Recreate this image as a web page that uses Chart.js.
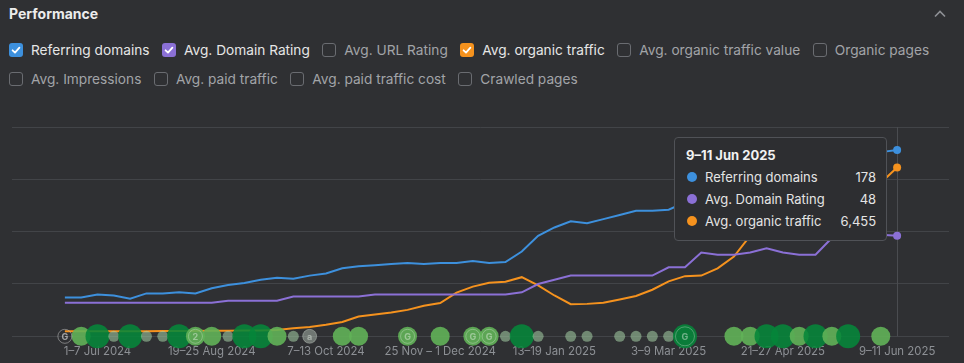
<!DOCTYPE html>
<html>
<head>
<meta charset="utf-8">
<script src="https://cdn.jsdelivr.net/npm/chart.js@4/dist/chart.umd.min.js"></script>
<style>
  html, body { margin:0; padding:0; }
  body { width:964px; height:363px; overflow:hidden; background:#2f3033; font-family:Inter, "Noto Sans", sans-serif; position:relative; }
  .head { position:absolute; left:9px; top:0; height:28px; line-height:28px; font-size:14px; font-weight:700; color:#ececec; }
  .chev { position:absolute; left:933px; top:9px; }
  .row { position:absolute; left:9px; height:28px; display:flex; align-items:center; white-space:nowrap; }
  .item { display:flex; align-items:center; margin-right:12.5px; font-size:13.7px; color:#a2a4a8; }
  .item.on { color:#e6e6e6; }
  .box { width:14px; height:14px; box-sizing:border-box; border:1.5px solid #6a6c71; border-radius:3px; margin-right:8px; display:flex; align-items:center; justify-content:center; }
  .item.on .box { border:none; }
  #wrap { position:absolute; left:0; top:100px; width:964px; height:266px; }
  #tip { position:absolute; display:none; width:213px; box-sizing:border-box; padding:6px 10px 8px 11px; background:#2d2e31; border:1px solid #505257; border-radius:4px; font-size:13px; color:#e4e4e4; pointer-events:none; }
  #tip .t { height:22px; line-height:22px; font-weight:700; color:#f2f2f2; }
  #tip .r { height:22px; display:flex; align-items:center; }
  #tip .d { width:10px; height:10px; border-radius:50%; margin:0 8px 0 1px; }
  #tip .v { margin-left:auto; }
</style>
</head>
<body>
<div class="head">Performance</div>
<svg class="chev" width="14" height="10" viewBox="0 0 14 10"><path d="M2 7.5 L7 2.5 L12 7.5" fill="none" stroke="#8e9095" stroke-width="1.6"/></svg>
<div class="row" id="row1" style="top:36px"></div>
<div class="row" id="row2" style="top:65px"></div>
<div id="wrap"><canvas id="perf"></canvas></div>
<div id="tip"></div>
<script>
// ── Data ─────────────────────────────────────────────────────────
const weekLabels = [
  '17–23 Jun 2024', '24–30 Jun 2024', '1–7 Jul 2024', '8–14 Jul 2024', '15–21 Jul 2024',
  '22–28 Jul 2024', '29 Jul – 4 Aug 2024', '5–11 Aug 2024', '12–18 Aug 2024', '19–25 Aug 2024',
  '26 Aug – 1 Sep 2024', '2–8 Sep 2024', '9–15 Sep 2024', '16–22 Sep 2024', '23–29 Sep 2024',
  '30 Sep – 6 Oct 2024', '7–13 Oct 2024', '14–20 Oct 2024', '21–27 Oct 2024', '28 Oct – 3 Nov 2024',
  '4–10 Nov 2024', '11–17 Nov 2024', '18–24 Nov 2024', '25 Nov – 1 Dec 2024', '2–8 Dec 2024',
  '9–15 Dec 2024', '16–22 Dec 2024', '23–29 Dec 2024', '30 Dec 2024 – 5 Jan 2025', '6–12 Jan 2025',
  '13–19 Jan 2025', '20–26 Jan 2025', '27 Jan – 2 Feb 2025', '3–9 Feb 2025', '10–16 Feb 2025',
  '17–23 Feb 2025', '24 Feb – 2 Mar 2025', '3–9 Mar 2025', '10–16 Mar 2025', '17–23 Mar 2025',
  '24–30 Mar 2025', '31 Mar – 6 Apr 2025', '7–13 Apr 2025', '14–20 Apr 2025', '21–27 Apr 2025',
  '28 Apr – 4 May 2025', '5–11 May 2025', '12–18 May 2025', '19–25 May 2025', '26 May – 1 Jun 2025',
  '2–8 Jun 2025', '9–11 Jun 2025'
];
const tickWeeks = [2, 9, 16, 23, 30, 37, 44, 51];

const referringDomains = [
  37, 37, 40, 39, 36, 41, 41, 42, 41, 46,
  49, 51, 54, 56, 55, 58, 60, 65, 67, 68,
  69, 70, 69, 70, 70, 72, 70, 71, 81, 96,
  104, 110, 108, 112, 116, 120, 120, 121, 128, 140,
  152, 165, 178, 188, 185, 183, 181, 179, 177, 176,
  176, 178
];
const domainRating = [
  16, 16, 16, 16, 16, 16, 16, 16, 16, 16,
  17, 17, 17, 17, 19, 19, 19, 19, 19, 20,
  20, 20, 20, 20, 20, 20, 20, 20, 21, 25,
  27, 29, 29, 29, 29, 29, 29, 33, 33, 40,
  39, 39, 40, 42, 40, 39, 39, 47, 49, 49,
  48.5, 48
];
const organicTraffic = [
  190, 190, 190, 195, 195, 195, 200, 200, 205, 210,
  215, 220, 225, 240, 310, 360, 440, 550, 760, 830,
  910, 1010, 1170, 1270, 1670, 1900, 2050, 2090, 2260, 1950,
  1560, 1230, 1240, 1280, 1410, 1540, 1780, 2100, 2300, 2320,
  2600, 3050, 3850, 4400, 4800, 5050, 5300, 5500, 5650, 5780,
  5870, 6455
];

// annotation bubbles along the baseline (week index, size kind, letter)
const eventWeeks = [0, 1, 2, 3, 4, 5, 6, 7, 8, 9, 10, 11, 12, 13, 14, 15, 17, 18, 21, 23, 25, 26, 27, 28, 29, 31, 32, 34, 35, 36, 37, 38, 41, 42, 43, 44, 45, 46, 47, 48, 50];
const eventKinds = ['ring', 'mid', 'big', 'small', 'big', 'small', 'small', 'big', 'mid', 'mid', 'small', 'big', 'big', 'mid', 'small', 'ringa', 'mid', 'mid', 'mid', 'mid', 'mid', 'mid', 'small', 'big', 'small', 'small', 'small', 'small', 'small', 'small', 'small', 'big', 'mid', 'mid', 'big', 'big', 'mid', 'big', 'mid', 'big', 'mid'];
const eventMarks = ['G', '', '', '', '', '', '', '', '2', '', '', '', '', '', '', 'a', '', '', 'G', '', 'G', 'G', '', '', '', '', '', '', '', '', '', 'G', '', '', '', '', '', '', '', '', ''];

const seriesNames  = ['Referring domains', 'Avg. Domain Rating', 'Avg. organic traffic'];
const seriesColors = ['#3d90dd', '#8b70d6', '#f5921e'];
const metricRows = [
  ['Referring domains', 'Avg. Domain Rating', 'Avg. URL Rating', 'Avg. organic traffic', 'Avg. organic traffic value', 'Organic pages'],
  ['Avg. Impressions', 'Avg. paid traffic', 'Avg. paid traffic cost', 'Crawled pages']
];

// ── Metric checkboxes ────────────────────────────────────────────
metricRows.forEach((names, r) => {
  const row = document.getElementById('row' + (r + 1));
  names.forEach(name => {
    const k = seriesNames.indexOf(name);
    const item = document.createElement('div');
    item.className = 'item' + (k >= 0 ? ' on' : '');
    const box = k >= 0
      ? `<span class="box" style="background:${seriesColors[k]}"><svg width="14" height="14" viewBox="0 0 14 14"><path d="M3.6 7.3 L6 9.6 L10.4 4.6" fill="none" stroke="#fff" stroke-width="1.8" stroke-linecap="round" stroke-linejoin="round"/></svg></span>`
      : '<span class="box"></span>';
    item.innerHTML = box + '<span>' + name + '</span>';
    row.appendChild(item);
  });
});

// ── Bubble styles ────────────────────────────────────────────────
const kindRadius = { small: 5.5, mid: 9.5, big: 12, ring: 7, ringa: 7 };
const kindFill = {
  small: 'rgba(165,210,165,0.55)',
  mid: 'rgba(98,178,88,0.9)',
  big: 'rgba(6,134,58,0.88)',
  ring: 'rgba(0,0,0,0)',
  ringa: 'rgba(190,205,190,0.45)'
};

// ── Tooltip (HTML) ───────────────────────────────────────────────
function renderTooltip({ chart, tooltip }) {
  const tip = document.getElementById('tip');
  if (!tooltip.opacity || !tooltip.dataPoints || !tooltip.dataPoints.length) { tip.style.display = 'none'; return; }
  const idx = tooltip.dataPoints[0].dataIndex;
  let html = `<div class="t">${weekLabels[idx]}</div>`;
  tooltip.dataPoints.forEach(dp => {
    const v = dp.parsed.y.toLocaleString('en-US', { maximumFractionDigits: 0 });
    html += `<div class="r"><span class="d" style="background:${dp.dataset.borderColor}"></span><span>${dp.dataset.label}</span><span class="v">${v}</span></div>`;
  });
  tip.innerHTML = html;
  tip.style.display = 'block';
  const c = chart.canvas;
  tip.style.left = (c.offsetLeft + c.parentNode.offsetLeft + tooltip.caretX - tip.offsetWidth - 10) + 'px';
  tip.style.top = (c.parentNode.offsetTop + chart.chartArea.top + 10) + 'px';
}

// ── Small plugins ────────────────────────────────────────────────
const crosshair = {
  id: 'crosshair',
  beforeDatasetsDraw(chart) {
    const act = chart.getActiveElements();
    if (!act.length) return;
    const { ctx, chartArea } = chart;
    const x = Math.round(act[0].element.x) + 0.5;
    ctx.save();
    ctx.strokeStyle = '#4a4c50';
    ctx.lineWidth = 1;
    ctx.beginPath();
    ctx.moveTo(x, chartArea.top);
    ctx.lineTo(x, chartArea.bottom);
    ctx.stroke();
    ctx.restore();
  }
};

const eventLetters = {
  id: 'eventLetters',
  afterDatasetsDraw(chart) {
    const meta = chart.getDatasetMeta(0);
    const { ctx } = chart;
    ctx.save();
    meta.data.forEach((el, j) => {
      const m = eventMarks[j];
      const kind = eventKinds[j];
      if (kind === 'ring' || kind === 'ringa' || m) {
        const rr = kind === 'ring' || kind === 'ringa' ? kindRadius[kind] : kindRadius[kind] - 2.5;
        ctx.beginPath();
        ctx.arc(el.x, el.y, rr, 0, Math.PI * 2);
        ctx.strokeStyle = kind === 'ring' ? 'rgba(190,190,190,0.55)' : 'rgba(235,245,235,0.3)';
        ctx.lineWidth = 1;
        ctx.stroke();
      }
      if (m) {
        ctx.fillStyle = kind === 'ring' ? 'rgba(200,200,200,0.75)' : 'rgba(235,245,235,0.45)';
        ctx.font = '700 9px Inter, sans-serif';
        ctx.textAlign = 'center';
        ctx.textBaseline = 'middle';
        ctx.fillText(m, el.x, el.y + 0.5);
      }
    });
    ctx.restore();
  }
};

// ── Chart ────────────────────────────────────────────────────────
const lineDs = (label, values, color, axis) => ({
  type: 'line',
  label,
  data: values.map((v, i) => ({ x: i, y: v })),
  yAxisID: axis,
  borderColor: color,
  backgroundColor: color,
  borderWidth: 2,
  pointRadius: 0,
  pointHoverRadius: 4,
  pointHoverBorderWidth: 0,
  pointHoverBackgroundColor: color,
  tension: 0
});

const chart = new Chart(document.getElementById('perf'), {
  type: 'line',
  data: {
    datasets: [
      {
        type: 'bubble',
        label: 'Events',
        data: eventWeeks.map((w, j) => ({ x: w, y: 0, r: kindRadius[eventKinds[j]] })),
        backgroundColor: ctx => kindFill[eventKinds[ctx.dataIndex]],
        borderWidth: 0,
        hoverRadius: 0,
        clip: false
      },
      lineDs(seriesNames[0], referringDomains, seriesColors[0], 'y'),
      lineDs(seriesNames[1], domainRating, seriesColors[1], 'y1'),
      lineDs(seriesNames[2], organicTraffic, seriesColors[2], 'y2')
    ]
  },
  options: {
    responsive: true,
    maintainAspectRatio: false,
    animation: false,
    layout: { padding: { left: 9, right: 15, top: 27, bottom: 0 } },
    interaction: { mode: 'index', intersect: false },
    plugins: {
      legend: { display: false },
      tooltip: { enabled: false, external: renderTooltip }
    },
    scales: {
      x: {
        type: 'linear',
        min: -3.24,
        max: 54.18,
        grid: { display: false, drawTicks: false },
        border: { display: false },
        afterBuildTicks: axis => { axis.ticks = tickWeeks.map(v => ({ value: v })); },
        ticks: {
          autoSkip: false,
          maxRotation: 0,
          padding: 8,
          color: '#8d9095',
          font: { family: 'Inter', size: 11.4 },
          callback: v => weekLabels[v] ?? ''
        }
      },
      y: {
        min: 0, max: 200,
        ticks: { display: false, stepSize: 50 },
        grid: { color: '#424448', drawTicks: false },
        border: { display: false }
      },
      y1: { display: false, min: 0, max: 100 },
      y2: { display: false, min: 0, max: 8000 }
    }
  },
  plugins: [crosshair, eventLetters]
});

// show the hover state on the latest week
const last = weekLabels.length - 1;
const active = [1, 2, 3].map(d => ({ datasetIndex: d, index: last }));
chart.setActiveElements(active);
const pt = chart.getDatasetMeta(1).data[last];
chart.tooltip.setActiveElements(active, { x: pt.x, y: pt.y });
chart.update();
</script>
</body>
</html>
